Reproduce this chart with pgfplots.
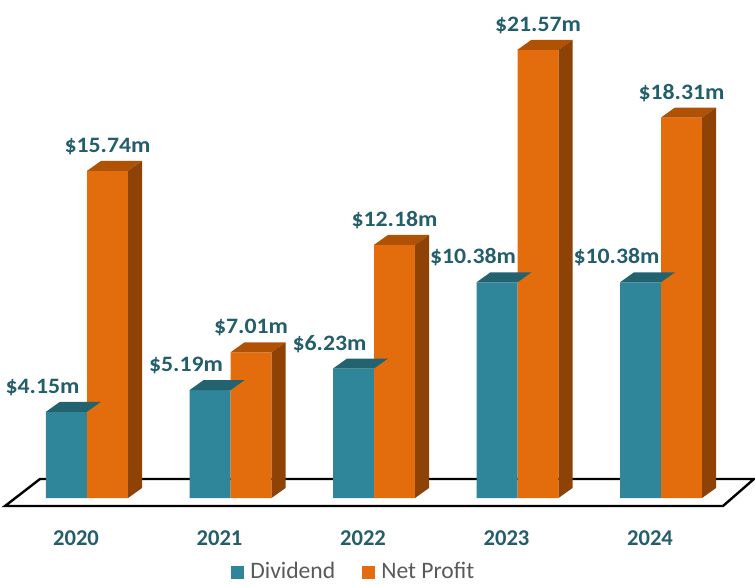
\documentclass[border=0pt]{standalone}
\usepackage{pgfplots}
\pgfplotsset{compat=1.18}
\usepackage{pgfplotstable}
\usepackage{fontspec}
\setmainfont{Carlito}
\newfontfamily\widefont[FakeStretch=1.08]{Carlito}
\definecolor{tealfront}{RGB}{47,133,153}
\definecolor{tealtop}{RGB}{35,99,112}
\definecolor{orangefront}{RGB}{227,108,12}
\definecolor{orangetop}{RGB}{176,82,6}
\definecolor{orangeside}{RGB}{142,66,6}
\definecolor{labelteal}{RGB}{35,94,107}
\definecolor{legendgray}{RGB}{89,89,89}
\newcommand\lbl{\fontsize{11.3}{13.5}\selectfont\bfseries}
\newcommand\vlbl{\widefont\fontsize{11}{13}\selectfont\bfseries}
\newcommand\lgd{\fontsize{11.8}{14}\selectfont}
\newdimen\barh
\newcommand\tealfaces{%
  \pgfpathmoveto{\pgfqpoint{-20.5pt}{0pt}}%
  \pgfpathlineto{\pgfqpoint{0pt}{0pt}}%
  \pgfpathlineto{\pgfqpoint{7pt}{5pt}}%
  \pgfpathlineto{\pgfqpoint{-13.5pt}{5pt}}%
  \pgfpathclose
  \pgfsetfillcolor{tealtop}%
  \pgfusepath{fill}}
\newcommand\orangefaces{%
  \pgfmathsetlength{\barh}{-10.39*\hval}%
  \pgfpathmoveto{\pgfqpoint{0pt}{0pt}}%
  \pgfpathlineto{\pgfqpoint{20.5pt}{0pt}}%
  \pgfpathlineto{\pgfqpoint{27.5pt}{5pt}}%
  \pgfpathlineto{\pgfqpoint{7pt}{5pt}}%
  \pgfpathclose
  \pgfsetfillcolor{orangetop}%
  \pgfusepath{fill}%
  \pgfpathmoveto{\pgfqpoint{20.5pt}{0pt}}%
  \pgfpathlineto{\pgfqpoint{27.5pt}{5pt}}%
  \pgfpathlineto{\pgfqpoint{27.5pt}{\dimexpr\barh+5pt\relax}}%
  \pgfpathlineto{\pgfqpoint{20.5pt}{\barh}}%
  \pgfpathclose
  \pgfsetfillcolor{orangeside}%
  \pgfusepath{fill}}
\pgfplotstableread{
x div np
0 4.15 15.74
1 5.19 7.01
2 6.23 12.18
3 10.38 21.57
4 10.38 18.31
}\data
\begin{document}
\begin{tikzpicture}
\useasboundingbox (0,0) rectangle (377.5pt,293pt);
\begin{axis}[
  at={(0.45pt,44pt)}, anchor=south west,
  x=71.75pt, y=10.39pt,
  xmin=-0.6, xmax=4.7, ymin=0, ymax=24,
  clip=false,
  axis x line*=bottom, axis y line=none,
  axis line style={draw=none},
  xtick={0,...,4}, xticklabels={2020,2021,2022,2023,2024},
  major tick length=0pt,
  ytick=\empty,
  xticklabel style={font=\lbl, text=labelteal, anchor=base, xshift=-5.5pt, yshift=-23.5pt},
  legend style={at={(0.2946,-0.1484)}, anchor=west, draw=none, fill=none,
    legend columns=2, font=\lgd, text=legendgray,
    /tikz/every odd column/.append style={column sep=1pt},
    /tikz/every even column/.append style={column sep=11.5pt}},
  every node near coord/.append style={font=\vlbl, text=labelteal, inner sep=0pt, text depth=0pt, yshift=9pt},
]
% floor
\addplot[forget plot, fill=white, draw=black, line width=1.2pt, line join=miter]
  coordinates {(-0.5714,-0.385) (-0.3275,0.914) (4.648,0.914) (4.432,-0.385)} -- cycle;
% Dividend
\addplot[ybar, bar width=20.5pt, bar shift=-10.25pt, fill=tealfront, draw=none,
  legend image code/.code={\fill[tealfront] (0pt,-3.25pt) rectangle (6.5pt,3.25pt);},
  nodes near coords={\$\pgfmathprintnumber[fixed,fixed zerofill,precision=2,assume math mode=true]{\pgfplotspointmeta}m},
  every node near coord/.append style={xshift=-22.25pt}]
  table[x=x, y=div] {\data};
\addlegendentry{Dividend}
\addplot[forget plot, scatter, only marks, mark=*, mark size=0pt, mark options={draw=none, fill=none},
  scatter/@pre marker code/.code={\pgfscope\tealfaces\endpgfscope},
  scatter/@post marker code/.code={}]
  table[x=x, y=div] {\data};
% Net Profit
\addplot[ybar, bar width=20.5pt, bar shift=10.25pt, fill=orangefront, draw=none,
  legend image code/.code={\fill[orangefront] (0pt,-3.25pt) rectangle (6.5pt,3.25pt);},
  nodes near coords={\$\pgfmathprintnumber[fixed,fixed zerofill,precision=2,assume math mode=true]{\pgfplotspointmeta}m},
  every node near coord/.append style={xshift=10.25pt}]
  table[x=x, y=np] {\data};
\addlegendentry{Net Profit}
\addplot[forget plot, scatter, only marks, mark=*, mark size=0pt, mark options={draw=none, fill=none},
  visualization depends on={\thisrow{np} \as \hval},
  scatter/@pre marker code/.code={\pgfscope\orangefaces\endpgfscope},
  scatter/@post marker code/.code={}]
  table[x=x, y=np] {\data};
\end{axis}
\end{tikzpicture}
\end{document}
